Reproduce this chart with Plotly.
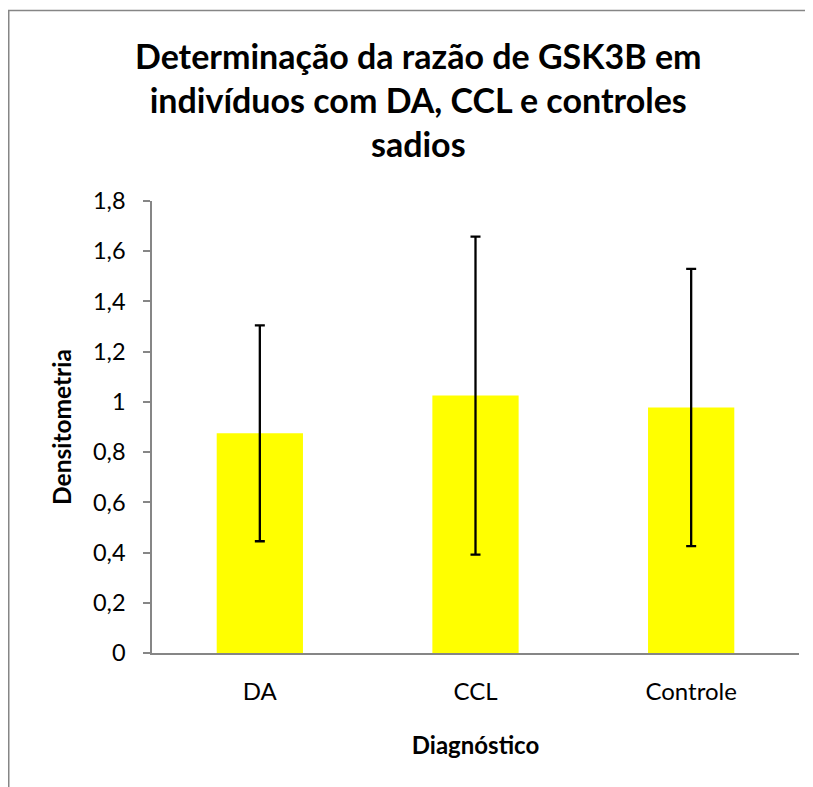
import plotly.graph_objects as go

categories = ["DA", "CCL", "Controle"]
values = [0.875, 1.025, 0.978]
errors = [0.43, 0.633, 0.552]
tick_vals = [0, 0.2, 0.4, 0.6, 0.8, 1.0, 1.2, 1.4, 1.6, 1.8]
tick_text = ["0", "0,2", "0,4", "0,6", "0,8", "1", "1,2", "1,4", "1,6", "1,8"]
title_text = "<b>Determinação da razão de GSK3B em<br>indivíduos com DA, CCL e controles<br>sadios</b>"

FONT = "Lato"

fig = go.Figure(go.Bar(
    x=categories, y=values,
    marker=dict(color="#FFFF00", line=dict(width=0)),
    width=0.4,
    error_y=dict(type="data", array=errors, visible=True, color="#000000", thickness=2.3, width=5),
))

fig.update_layout(
    width=813, height=787,
    paper_bgcolor="white", plot_bgcolor="white",
    margin=dict(l=144, r=22, t=193, b=142),
    showlegend=False,
    xaxis=dict(
        showline=True, linecolor="#868686", linewidth=1.5,
        ticks="", showgrid=False, zeroline=False,
        ticklabelstandoff=16,
        tickfont=dict(family=FONT, size=24, color="#000000"),
        title=dict(text="<b>Diagnóstico</b>", font=dict(family=FONT, size=24, color="#000000"), standoff=34),
    ),
    yaxis=dict(
        range=[0, 1.8], tickvals=tick_vals, ticktext=tick_text,
        showline=True, linecolor="#868686", linewidth=1.5,
        ticks="outside", ticklen=7, tickcolor="#868686", tickwidth=1.5,
        ticklabelstandoff=13,
        showgrid=False, zeroline=False,
        tickfont=dict(family=FONT, size=23.5, color="#000000"),
        title=dict(text="<b>Densitometria</b>", font=dict(family=FONT, size=24.5, color="#000000"), standoff=14),
    ),
    annotations=[dict(
        text=title_text, xref="paper", yref="paper", x=0.412, y=1.224,
        xanchor="center", yanchor="middle", showarrow=False, align="center",
        font=dict(family=FONT, size=34, color="#000000"),
    )],
    shapes=[dict(type="rect", xref="paper", yref="paper", x0=-0.2214, x1=1.2, y0=-0.4, y1=1.4214,
                 line=dict(color="#868686", width=1.5), fillcolor="rgba(0,0,0,0)", layer="below")],
)

fig.write_html("out.html")
